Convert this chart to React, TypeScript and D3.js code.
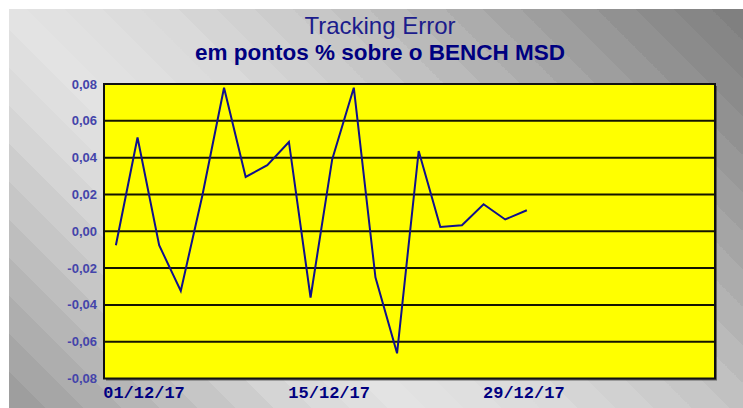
import React from "react";
import * as d3 from "d3";

// Tracking error, one point per business day of Dec 2017
const trackingError = [
  -0.0076, 0.0509, -0.0076, -0.0324, 0.0196, 0.078, 0.0295, 0.0359, 0.0485, -0.036,
  0.039, 0.078, -0.025, -0.0663, 0.0436, 0.0023, 0.0033, 0.0147, 0.0064, 0.0114,
];
const yTicks = [0.08, 0.06, 0.04, 0.02, 0, -0.02, -0.04, -0.06, -0.08];
const xTickIndex = [0, 10, 19];
const xTickLabels = ["01/12/17", "15/12/17", "29/12/17"];

const W = 743;
const H = 408;
const plot = { left: 104, top: 84, right: 715, bottom: 378.5 };

// background shading along x - y, banded like the original
const shadeT = [-400, -250, -100, 0, 150, 300, 450, 600, 734];
const shadeC = ["#9a9a9a", "#bababa", "#d8d8d8", "#e3e3e3", "#dadada", "#c8c8c8", "#adadad", "#929292", "#7e7e7e"];

const fmt = (v: number) => d3.format(".2f")(v).replace(".", ",").replace("−", "-");

export default function App() {
  const x = d3.scaleLinear().domain([-0.55, 27.7]).range([plot.left, plot.right]);
  const y = d3.scaleLinear().domain([-0.08, 0.08]).range([plot.bottom, plot.top]);

  const line = d3
    .line<number>()
    .x((_, i) => x(i))
    .y((d) => y(d));

  // banded gradient stops
  const shade = d3.scaleLinear<string>().domain(shadeT).range(shadeC);
  const t0 = -400;
  const t1 = 734;
  const band = 38;
  const stops: { o: number; c: string }[] = [];
  for (let t = t0; t < t1; t += band) {
    const c = shade(Math.min(t + band / 2, t1));
    stops.push({ o: (t - t0) / (t1 - t0), c });
    stops.push({ o: Math.min(1, (t + band - t0) / (t1 - t0)), c });
  }
  const half = (t1 - t0) / 4;

  return (
    <svg
      width={W}
      height={H}
      style={{ position: "absolute", left: 0, top: 0, fontFamily: "'Liberation Sans', Arial, sans-serif" }}
    >
      <defs>
        <linearGradient
          id="bg"
          gradientUnits="userSpaceOnUse"
          x1={200}
          y1={600}
          x2={200 + half * 2}
          y2={600 - half * 2}
        >
          {stops.map((s, i) => (
            <stop key={i} offset={s.o} stopColor={s.c} />
          ))}
        </linearGradient>
      </defs>

      <rect x={0} y={0} width={W} height={H} fill="#fff" />
      <rect x={9} y={9} width={W - 9} height={H - 9} fill="url(#bg)" />

      <text x={380} y={34} textAnchor="middle" fontSize={24} fill="#1c1c8c">
        Tracking Error
      </text>
      <text x={380} y={60} textAnchor="middle" fontSize={22.5} fontWeight="bold" fill="#000080">
        em pontos % sobre o BENCH MSD
      </text>

      {/* plot frame with shadow */}
      <rect
        x={plot.left + 2}
        y={plot.top + 2}
        width={plot.right - plot.left}
        height={plot.bottom - plot.top}
        fill="#3a3a3a"
        opacity={0.7}
      />
      <rect
        x={plot.left}
        y={plot.top}
        width={plot.right - plot.left}
        height={plot.bottom - plot.top}
        fill="#ffff00"
      />

      {yTicks.map((v) => (
        <g key={v}>
          {v > -0.08 && v < 0.08 && (
            <line x1={plot.left} x2={plot.right} y1={y(v)} y2={y(v)} stroke="#141400" strokeWidth={2} />
          )}
          <text
            x={97}
            y={y(v)}
            dy="0.35em"
            textAnchor="end"
            fontSize={13}
            fontWeight="bold"
            fill="#4444aa"
          >
            {fmt(v)}
          </text>
        </g>
      ))}

      <rect
        x={plot.left}
        y={plot.top}
        width={plot.right - plot.left}
        height={plot.bottom - plot.top}
        fill="none"
        stroke="#111"
        strokeWidth={2}
      />

      <path d={line(trackingError) ?? ""} fill="none" stroke="#10108c" strokeWidth={2} strokeLinejoin="miter" />

      {xTickIndex.map((idx, i) => (
        <text
          key={xTickLabels[i]}
          x={i === 0 ? Math.max(x(idx), plot.left + 40) : x(idx) - 3}
          y={398}
          textAnchor="middle"
          fontFamily="'Liberation Mono', 'Courier New', monospace"
          fontWeight="bold"
          fontSize={17}
          fill="#000080"
        >
          {xTickLabels[i]}
        </text>
      ))}
    </svg>
  );
}
